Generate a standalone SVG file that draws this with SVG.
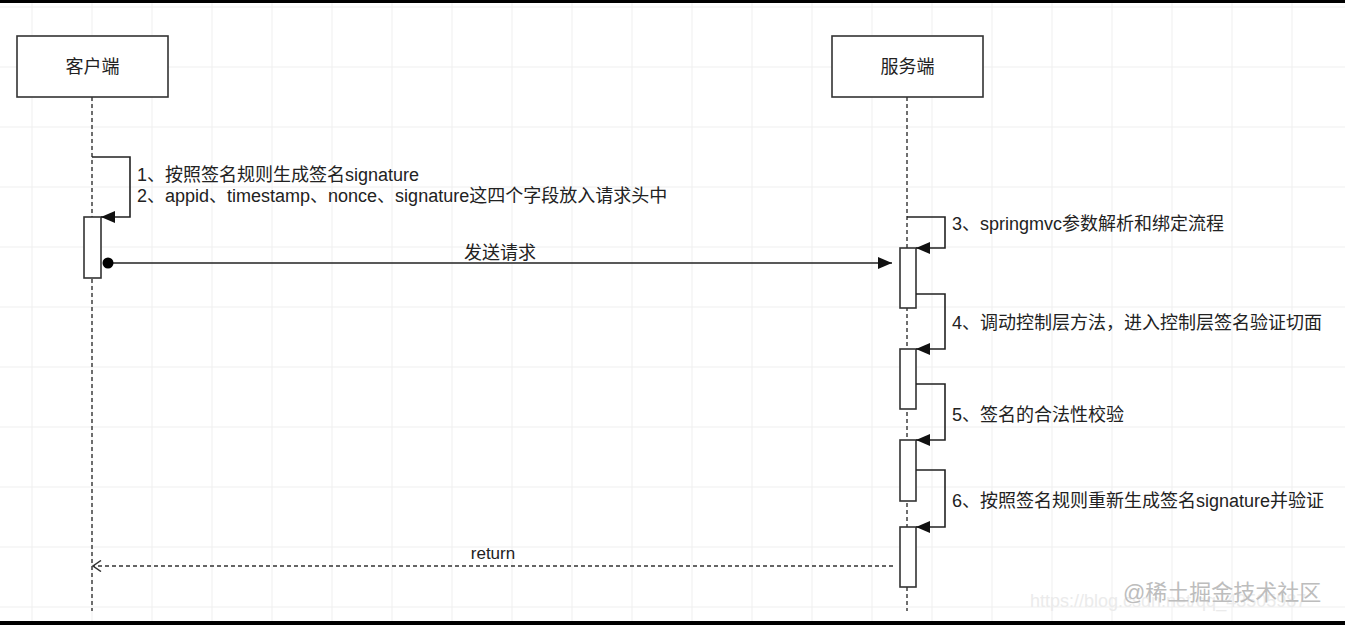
<svg xmlns="http://www.w3.org/2000/svg" width="1345" height="625" viewBox="0 0 1345 625">
  <defs>
    <style>
      text { font-family: "Liberation Sans", "Noto Sans CJK SC", sans-serif; font-size: 18px; fill: #222; }
      .grid line { stroke: #efefef; stroke-width: 1; }
      .box { fill: #fff; stroke: #333; stroke-width: 1.6; }
      .act { fill: #fff; stroke: #333; stroke-width: 1.6; }
      .life { stroke: #333; stroke-width: 1.4; stroke-dasharray: 4 3; fill: none; }
      .msg { stroke: #222; stroke-width: 1.6; fill: none; }
      .ret { stroke: #333; stroke-width: 1.4; stroke-dasharray: 4 3; fill: none; }
      .wm { font-size: 22px; fill: #bdbdbd; }
      .wm2 { font-size: 18px; fill: #ebebeb; }
    </style>
    <marker id="block" viewBox="0 0 14 12" refX="14" refY="6" markerWidth="14" markerHeight="12" markerUnits="userSpaceOnUse" orient="auto">
      <path d="M0,0 L14,6 L0,12 Z" fill="#111"/>
    </marker>
    <marker id="open" viewBox="0 0 10 12" refX="9" refY="6" markerWidth="10" markerHeight="12" markerUnits="userSpaceOnUse" orient="auto">
      <path d="M1,0.5 L9,6 L1,11.5" fill="none" stroke="#333" stroke-width="1.5"/>
    </marker>
    <marker id="dot" viewBox="0 0 12 12" refX="6" refY="6" markerWidth="12" markerHeight="12" markerUnits="userSpaceOnUse">
      <circle cx="6" cy="6" r="5.5" fill="#000"/>
    </marker>
  </defs>

  <rect x="0" y="0" width="1345" height="625" fill="#fff"/>

  <!-- background grid -->
  <g class="grid">
    <line x1="32" y1="0" x2="32" y2="625"/>
    <line x1="92" y1="0" x2="92" y2="625"/>
    <line x1="152" y1="0" x2="152" y2="625"/>
    <line x1="212" y1="0" x2="212" y2="625"/>
    <line x1="272" y1="0" x2="272" y2="625"/>
    <line x1="332" y1="0" x2="332" y2="625"/>
    <line x1="392" y1="0" x2="392" y2="625"/>
    <line x1="452" y1="0" x2="452" y2="625"/>
    <line x1="512" y1="0" x2="512" y2="625"/>
    <line x1="572" y1="0" x2="572" y2="625"/>
    <line x1="632" y1="0" x2="632" y2="625"/>
    <line x1="692" y1="0" x2="692" y2="625"/>
    <line x1="752" y1="0" x2="752" y2="625"/>
    <line x1="812" y1="0" x2="812" y2="625"/>
    <line x1="872" y1="0" x2="872" y2="625"/>
    <line x1="932" y1="0" x2="932" y2="625"/>
    <line x1="992" y1="0" x2="992" y2="625"/>
    <line x1="1052" y1="0" x2="1052" y2="625"/>
    <line x1="1112" y1="0" x2="1112" y2="625"/>
    <line x1="1172" y1="0" x2="1172" y2="625"/>
    <line x1="1232" y1="0" x2="1232" y2="625"/>
    <line x1="1292" y1="0" x2="1292" y2="625"/>
    <line x1="0" y1="7" x2="1345" y2="7"/>
    <line x1="0" y1="67" x2="1345" y2="67"/>
    <line x1="0" y1="127" x2="1345" y2="127"/>
    <line x1="0" y1="187" x2="1345" y2="187"/>
    <line x1="0" y1="247" x2="1345" y2="247"/>
    <line x1="0" y1="307" x2="1345" y2="307"/>
    <line x1="0" y1="367" x2="1345" y2="367"/>
    <line x1="0" y1="427" x2="1345" y2="427"/>
    <line x1="0" y1="487" x2="1345" y2="487"/>
    <line x1="0" y1="547" x2="1345" y2="547"/>
    <line x1="0" y1="607" x2="1345" y2="607"/>
  </g>

  <!-- participant: client -->
  <g id="client">
    <line class="life" x1="92" y1="97" x2="92" y2="611"/>
    <rect class="box" x="17" y="36" width="151" height="61"/>
    <text x="92.5" y="73" text-anchor="middle">客户端</text>
    <rect id="client-act" class="act" x="84" y="217" width="17" height="61"/>
  </g>

  <!-- participant: server -->
  <g id="server">
    <line class="life" x1="907" y1="97" x2="907" y2="611"/>
    <rect class="box" x="832" y="36" width="151" height="61"/>
    <text x="907.5" y="73" text-anchor="middle">服务端</text>
    <rect id="server-act-1" class="act" x="900" y="248" width="16" height="60"/>
    <rect id="server-act-2" class="act" x="900" y="349" width="16" height="60"/>
    <rect id="server-act-3" class="act" x="900" y="440" width="16" height="61"/>
    <rect id="server-act-4" class="act" x="900" y="527" width="16" height="60"/>
  </g>

  <!-- messages -->
  <g id="connectors">
    <path class="msg" d="M92,157 H130 V217 H101" marker-end="url(#block)"/>
    <path class="msg" d="M108,263 H892" marker-start="url(#dot)" marker-end="url(#block)"/>
    <path class="msg" d="M907,217 H945 V248 H916" marker-end="url(#block)"/>
    <path class="msg" d="M916,294 H945 V349 H916" marker-end="url(#block)"/>
    <path class="msg" d="M916,384 H945 V440 H916" marker-end="url(#block)"/>
    <path class="msg" d="M916,470 H945 V527 H916" marker-end="url(#block)"/>
    <path class="ret" d="M893,566 H93" marker-end="url(#open)"/>
  </g>

  <!-- message labels -->
  <g id="labels">
    <text x="137" y="181">1、按照签名规则生成签名signature</text>
    <text x="137" y="202">2、appid、timestamp、nonce、signature这四个字段放入请求头中</text>
    <text x="500" y="259" text-anchor="middle">发送请求</text>
    <text x="952" y="230">3、springmvc参数解析和绑定流程</text>
    <text x="952" y="329">4、调动控制层方法，进入控制层签名验证切面</text>
    <text x="952" y="421">5、签名的合法性校验</text>
    <text x="952" y="507">6、按照签名规则重新生成签名signature并验证</text>
    <text x="493" y="559" text-anchor="middle" style="font-size:17px">return</text>
  </g>

  <!-- watermarks -->
  <text class="wm2" x="1030" y="607">https://blog.csdn.net/qq_43505987</text>
  <text class="wm" x="1123" y="600">@稀土掘金技术社区</text>

  <!-- frame bars -->
  <rect x="0" y="0" width="1345" height="3" fill="#000"/>
  <rect x="0" y="621" width="1345" height="4" fill="#000"/>
</svg>
